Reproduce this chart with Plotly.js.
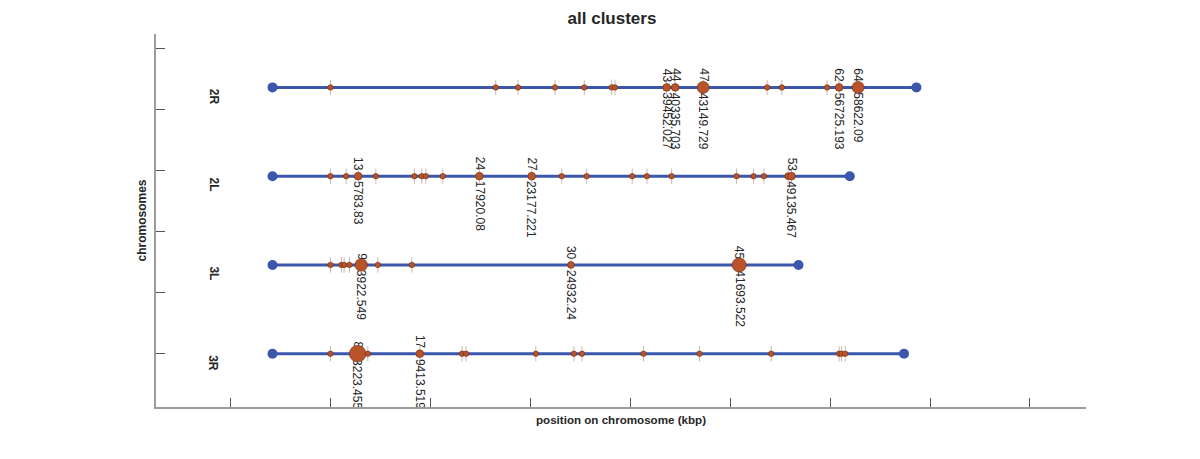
<!DOCTYPE html>
<html>
<head>
<meta charset="utf-8">
<script src="https://cdn.plot.ly/plotly-3.0.1.min.js"></script>
<style>
  html, body { margin: 0; padding: 0; background: #ffffff; }
  #chart { width: 1200px; height: 459px; }
</style>
</head>
<body>
<div id="chart"></div>
<script>
// ---------- DATA ----------
const chromosomes = ['2R', '2L', '3L', '3R'];
const chromY = [4, 3, 2, 1];
const chromStart = [4200, 4200, 4200, 4200];
const chromEnd = [68640, 61970, 56840, 67400];

// cluster positions (plot axis, kbp), cluster weights, ids and labelled positions
const pos2R = [10000, 26540, 28770, 32470, 35400, 38140, 38470, 43640, 44500, 47300, 53700, 55170, 59700, 60900, 62800];
const weight2R = [1, 1, 1, 1, 1, 1, 1, 3, 3, 10, 1, 1, 1, 3, 10];
const id2R = ['', '', '', '', '', '', '', '43', '44', '47', '', '', '', '62', '64'];
const val2R = ['', '', '', '', '', '', '', '39452.027', '40335.703', '43149.729', '', '', '', '56725.193', '58622.09'];

const pos2L = [10000, 11570, 12770, 14540, 18400, 19140, 19540, 21240, 24900, 30140, 33140, 35640, 40200, 41670, 44140, 50640, 52340, 53370, 55800, 56140];
const weight2L = [1, 1, 3, 1, 1, 1, 1, 1, 3, 3, 1, 1, 1, 1, 1, 1, 1, 1, 2, 3];
const id2L = ['', '', '13', '', '', '', '', '', '24', '27', '', '', '', '', '', '', '', '', '', '53'];
const val2L = ['', '', '5783.83', '', '', '', '', '', '17920.08', '23177.221', '', '', '', '', '', '', '', '', '', '49135.467'];

const pos3L = [10000, 11100, 11370, 11900, 13070, 14740, 18140, 34070, 50900];
const weight3L = [1, 1, 1, 1, 11, 1, 1, 2, 15];
const id3L = ['', '', '', '', '9', '', '', '30', '45'];
const val3L = ['', '', '', '', '3922.549', '', '', '24932.24', '41693.522'];

const pos3R = [10000, 12720, 13740, 18940, 23170, 23570, 30550, 34360, 35170, 41330, 46930, 54110, 60900, 61150, 61510];
const weight3R = [1, 22, 1, 3, 1, 1, 1, 1, 1, 1, 1, 1, 1, 1, 1];
const id3R = ['', '8', '', '17', '', '', '', '', '', '', '', '', '', '', ''];
const val3R = ['', '3223.455', '', '9413.519', '', '', '', '', '', '', '', '', '', '', ''];

const clusterPos = [pos2R, pos2L, pos3L, pos3R];
const clusterWeight = [weight2R, weight2L, weight3L, weight3R];
const clusterId = [id2R, id2L, id3L, id3R];
const clusterVal = [val2R, val2L, val3L, val3R];

// ---------- STYLE ----------
const FONT = 'Liberation Sans, Arial, Helvetica, sans-serif';
const BLUE = '#3A57AC';
const ORANGE = '#B9532A';
const ORANGE_EDGE = '#6A2C10';
const TEXT = '#262626';
const AX = '#9c9c9c';
const chrLabelX = -1700;

function markerSize(w) { return 2.5 + 3 * Math.sqrt(w); }

const traces = [];
const annotations = [];

chromosomes.forEach((c, i) => {
  const y = chromY[i];
  traces.push({
    type: 'scatter', mode: 'lines+markers',
    x: [chromStart[i], chromEnd[i]], y: [y, y],
    line: { color: BLUE, width: 3 },
    marker: { color: BLUE, size: 10, opacity: 1 },
    hoverinfo: 'skip', showlegend: false
  });
  const xs = clusterPos[i];
  traces.push({
    type: 'scatter', mode: 'markers',
    x: xs, y: xs.map(() => y),
    marker: { symbol: 'line-ns', size: 11, opacity: 1, line: { color: 'rgba(165,125,105,0.55)', width: 1 } },
    hoverinfo: 'skip', showlegend: false
  });
  traces.push({
    type: 'scatter', mode: 'markers',
    x: xs, y: xs.map(() => y),
    marker: {
      color: ORANGE, opacity: 1, size: clusterWeight[i].map(markerSize),
      line: { color: ORANGE_EDGE, width: 0.6 }
    },
    hoverinfo: 'x', showlegend: false
  });
  annotations.push({
    x: chrLabelX, y: y, xref: 'x', yref: 'y', text: '<b>' + c + '</b>',
    textangle: 90, xanchor: 'center', yanchor: 'top', yshift: 1,
    showarrow: false, font: { family: FONT, size: 12, color: TEXT }
  });
  clusterId[i].forEach((id, k) => {
    if (!id) return;
    annotations.push({
      x: xs[k], y: y, xref: 'x', yref: 'y', text: id,
      textangle: 90, xanchor: 'center', yanchor: 'bottom', yshift: 3,
      showarrow: false, font: { family: FONT, size: 12, color: TEXT }
    });
    annotations.push({
      x: xs[k], y: y, xref: 'x', yref: 'y', text: clusterVal[i][k],
      textangle: 90, xanchor: 'center', yanchor: 'top', yshift: -3,
      showarrow: false, font: { family: FONT, size: 12, color: TEXT }
    });
  });
});

const layout = {
  width: 1200, height: 459,
  margin: { l: 155.7, r: 113.6, t: 34.3, b: 51.7, pad: 0 },
  paper_bgcolor: '#ffffff', plot_bgcolor: '#ffffff',
  font: { family: FONT, color: TEXT },
  title: {
    text: '<b>all clusters</b>',
    font: { family: FONT, size: 17, color: TEXT },
    xref: 'paper', x: 0.4903, xanchor: 'center',
    yref: 'container', y: 1 - 18 / 459, yanchor: 'middle'
  },
  xaxis: {
    range: [-7460, 85610], tick0: 0, dtick: 10000,
    showgrid: false, zeroline: false, showline: true, linecolor: AX, linewidth: 1.6,
    ticks: 'inside', ticklen: 9, tickwidth: 1, tickcolor: '#555555',
    showticklabels: false, fixedrange: true,
    title: { text: '<b>position on chromosome (kbp)</b>', font: { family: FONT, size: 11.6, color: TEXT }, standoff: 8 }
  },
  yaxis: {
    range: [0.3996, 4.6016],
    tickvals: [1, 1.6887, 2.3775, 3.0662, 3.755, 4.4437],
    showgrid: false, zeroline: false, showline: true, linecolor: AX, linewidth: 1.6,
    ticks: 'inside', ticklen: 9, tickwidth: 1, tickcolor: '#555555',
    showticklabels: false, fixedrange: true,
    title: { text: '<b>chromosomes</b>', font: { family: FONT, size: 12, color: TEXT }, standoff: 5 }
  },
  annotations: annotations,
  showlegend: false
};

Plotly.newPlot('chart', traces, layout, { displayModeBar: false, staticPlot: true }).then(gd => {
  // put the rotated cluster labels underneath the markers, as in the reference
  const paper = gd.querySelector('.main-svg');
  const cart = paper && paper.querySelector('.cartesianlayer');
  if (cart) {
    gd.querySelectorAll('.infolayer .annotation').forEach(a => cart.parentNode.insertBefore(a, cart));
  }
});
</script>
</body>
</html>
